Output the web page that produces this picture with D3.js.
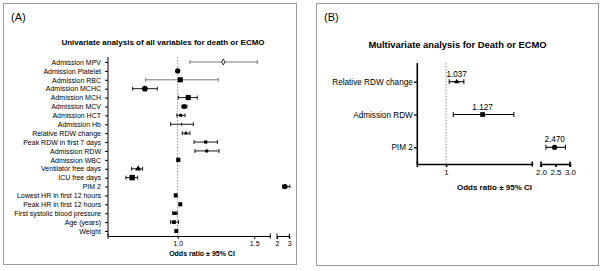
<!DOCTYPE html>
<html>
<head>
<meta charset="utf-8">
<script src="https://cdn.jsdelivr.net/npm/d3@7"></script>
<style>
  body { margin: 0; background: #fff; -webkit-font-smoothing: antialiased; }
  svg text { font-family: "Liberation Sans", Arial, sans-serif; fill: #000; }
  .tick text { fill: #000; }
</style>
</head>
<body>
<script>
// ---- data (odds ratio with 95% CI) ----
var uniLabels = ["Admission MPV", "Admission Platelet", "Admission RBC", "Admission MCHC",
  "Admission MCH", "Admission MCV", "Admission HCT", "Admission Hb", "Relative RDW change",
  "Peak RDW in first 7 days", "Admission RDW", "Admission WBC", "Ventilator free days",
  "ICU free days", "PIM 2", "Lowest HR in first 12 hours", "Peak HR in first 12 hours",
  "First systolic blood pressure", "Age (years)", "Weight"];
var uniOR   = [1.298, 1.000, 1.017, 0.786, 1.069, 1.043, 1.020, 1.026, 1.054, 1.183, 1.190, 1.004, 0.742, 0.703, 2.65, 0.987, 1.017, 0.982, 0.976, 0.991];
var uniLow  = [1.080, 0.998, 0.791, 0.706, 1.004, 1.028, 0.995, 0.954, 1.030, 1.107, 1.113, 1.000, 0.699, 0.662, 2.45, 0.983, 1.013, 0.967, 0.954, 0.988];
var uniHigh = [1.520, 1.002, 1.265, 0.867, 1.128, 1.061, 1.048, 1.102, 1.080, 1.259, 1.270, 1.008, 0.771, 0.739, 3.05, 0.991, 1.021, 0.997, 1.006, 0.994];
var uniTicks1 = [1.0, 1.5];
var uniTicks2 = [2, 3];

var multiLabels = ["Relative RDW change", "Admission RDW", "PIM 2"];
var multiOR   = [1.037, 1.127, 2.470];
var multiLow  = [1.011, 1.025, 2.17];
var multiHigh = [1.062, 1.236, 2.84];
var multiTicks1 = [1];
var multiTicks2 = [2.0, 2.5, 3.0];

var uniSymbols = ["diamond", "circle", "square", "circle", "square", "circle", "circle", "none",
  "triangle", "square", "circle", "square", "triangle", "square", "circle", "square", "square",
  "square", "square", "square"];
var uniSizes = [10, 22, 26, 26, 26, 20, 10, 0, 8, 10, 10, 18, 16, 30, 22, 16, 16, 12, 14, 16];
var uniGray = ["Admission MPV", "Admission RBC"];

var symMap = { circle: d3.symbolCircle, square: d3.symbolSquare, triangle: d3.symbolTriangle, diamond: d3.symbolDiamond };
var FONT = "Liberation Sans, Arial, sans-serif";

var svg = d3.select("body").append("svg")
    .attr("width", 602)
    .attr("height", 271);

// panel frames
svg.append("rect").attr("x", 3.5).attr("y", 3.5).attr("width", 293).attr("height", 261)
  .attr("fill", "none").attr("stroke", "#9a9a9a");
svg.append("rect").attr("x", 316.5).attr("y", 3.5).attr("width", 282).attr("height", 262)
  .attr("fill", "none").attr("stroke", "#9a9a9a");

// ================= Panel A =================
var gA = svg.append("g");
gA.append("text").attr("x", 11).attr("y", 21).attr("font-size", 11).text("(A)");
gA.append("text").attr("x", 163).attr("y", 45).attr("text-anchor", "middle")
  .attr("font-size", 8).attr("font-weight", "bold")
  .text("Univariate analysis of all variables for death or ECMO");

var axA = 108, ayA = 236;
var yA = d3.scalePoint().domain(uniLabels).range([62, 231]);
var xA1 = d3.scaleLinear().domain([0.545, 1.605]).range([axA, 270.3]);
var xA2 = d3.scaleLinear().domain([2, 3]).range([277, 289.3]);
function xA(v) { return v >= 1.8 ? xA2(v) : xA1(v); }

// reference line at 1
gA.append("line").attr("x1", xA1(1)).attr("x2", xA1(1)).attr("y1", 57).attr("y2", ayA)
  .attr("stroke", "#777").attr("stroke-width", 0.8).attr("stroke-dasharray", "1.5,1.5");

// y axis
var yAxisA = gA.append("g").attr("transform", "translate(" + axA + ",0)")
  .call(d3.axisLeft(yA).tickSize(3).tickSizeOuter(0).tickPadding(4));
yAxisA.select(".domain").attr("d", "M0,57V" + ayA);
yAxisA.selectAll("text").attr("font-size", 7).attr("font-family", FONT).attr("fill", "#000");

// x axis segments
function segAxis(g, scale, ticks, fmt, y, fs, sw) {
  var a = g.append("g").attr("transform", "translate(0," + y + ")")
    .call(d3.axisBottom(scale).tickValues(ticks).tickFormat(fmt).tickSize(3).tickSizeOuter(0).tickPadding(2));
  a.selectAll("text").attr("font-size", fs).attr("font-family", FONT).attr("fill", "#000");
  a.selectAll("path, line").attr("stroke-width", sw);
  var r = scale.range();
  a.append("line").attr("x1", r[1]).attr("x2", r[1]).attr("y1", -2.5).attr("y2", 2.5)
    .attr("stroke", "#000").attr("stroke-width", sw);
  a.append("line").attr("x1", r[0]).attr("x2", r[0]).attr("y1", -2.5).attr("y2", 3)
    .attr("stroke", "#000").attr("stroke-width", sw);
  return a;
}
segAxis(gA, xA1, uniTicks1, d3.format(".1f"), ayA, 7, 1);
segAxis(gA, xA2, uniTicks2, d3.format("d"), ayA, 7, 1);

gA.append("text").attr("x", 202).attr("y", 256).attr("text-anchor", "middle")
  .attr("font-size", 7).attr("font-weight", "bold").text("Odds ratio \u00b1 95% CI");

// CI bars
var rowsA = gA.selectAll(".rowA").data(uniLabels).enter().append("g").attr("class", "rowA");
rowsA.each(function(d, i) {
  var g = d3.select(this), y = yA(d);
  var col = uniGray.indexOf(d) >= 0 ? "#6a6a6a" : "#000";
  var x0 = xA(uniLow[i]), x1 = xA(uniHigh[i]);
  g.append("line").attr("x1", x0).attr("x2", x1).attr("y1", y).attr("y2", y)
    .attr("stroke", col).attr("stroke-width", 0.9);
  [x0, x1].forEach(function(x) {
    g.append("line").attr("x1", x).attr("x2", x).attr("y1", y - 2).attr("y2", y + 2)
      .attr("stroke", col).attr("stroke-width", 0.9);
  });
  var s = uniSymbols[i];
  if (s === "none") {
    g.append("line").attr("x1", xA(uniOR[i])).attr("x2", xA(uniOR[i])).attr("y1", y - 1.5).attr("y2", y + 1.5)
      .attr("stroke", "#000").attr("stroke-width", 0.9);
  } else {
    g.append("path").attr("transform", "translate(" + xA(uniOR[i]) + "," + y + ")")
      .attr("d", d3.symbol().type(symMap[s]).size(uniSizes[i]))
      .attr("fill", s === "diamond" ? "#fff" : "#000")
      .attr("stroke", "#000").attr("stroke-width", s === "diamond" ? 0.8 : 0);
  }
});

// ================= Panel B =================
var gB = svg.append("g");
gB.append("text").attr("x", 324).attr("y", 21).attr("font-size", 11).text("(B)");
gB.append("text").attr("x", 457.5).attr("y", 48).attr("text-anchor", "middle")
  .attr("font-size", 9.4).attr("font-weight", "bold")
  .text("Multivariate analysis for Death or ECMO");

var axB = 417.3, ayB = 164;
var yB = d3.scalePoint().domain(multiLabels).range([81.7, 147.3]);
var xB1 = d3.scaleLinear().domain([0.9, 1.3]).range([axB, 532.3]);
var xB2 = d3.scaleLinear().domain([2, 3]).range([541, 570]);
function xB(v) { return v >= 1.8 ? xB2(v) : xB1(v); }

gB.append("line").attr("x1", xB1(1)).attr("x2", xB1(1)).attr("y1", 63).attr("y2", ayB)
  .attr("stroke", "#888").attr("stroke-width", 0.9).attr("stroke-dasharray", "1.5,1.5");

var yAxisB = gB.append("g").attr("transform", "translate(" + axB + ",0)")
  .call(d3.axisLeft(yB).tickSize(3.5).tickSizeOuter(0).tickPadding(1));
yAxisB.select(".domain").attr("d", "M0,63V" + ayB).attr("stroke-width", 1.6);
yAxisB.selectAll("line").attr("stroke-width", 1.3);
yAxisB.selectAll("text").attr("font-size", 8.2).attr("font-family", FONT).attr("fill", "#000");

segAxis(gB, xB1, multiTicks1, d3.format("d"), ayB, 8, 1.6);
segAxis(gB, xB2, multiTicks2, d3.format(".1f"), ayB, 8, 1.6);

gB.append("text").attr("x", 494.5).attr("y", 190).attr("text-anchor", "middle")
  .attr("font-size", 8).attr("font-weight", "bold").text("Odds ratio \u00b1 95% CI");

var multiSymbols = ["triangle", "square", "circle"];
var multiSizes = [12, 22, 22];
var rowsB = gB.selectAll(".rowB").data(multiLabels).enter().append("g").attr("class", "rowB");
rowsB.each(function(d, i) {
  var g = d3.select(this), y = yB(d);
  var x0 = xB(multiLow[i]), x1 = xB(multiHigh[i]);
  g.append("line").attr("x1", x0).attr("x2", x1).attr("y1", y).attr("y2", y)
    .attr("stroke", "#000").attr("stroke-width", 1.1);
  [x0, x1].forEach(function(x) {
    g.append("line").attr("x1", x).attr("x2", x).attr("y1", y - 2.5).attr("y2", y + 2.5)
      .attr("stroke", "#000").attr("stroke-width", 1);
  });
  g.append("path").attr("transform", "translate(" + xB(multiOR[i]) + "," + y + ")")
    .attr("d", d3.symbol().type(symMap[multiSymbols[i]]).size(multiSizes[i]))
    .attr("fill", "#000");
  g.append("text").attr("x", xB(multiOR[i])).attr("y", y - 5).attr("text-anchor", "middle")
    .attr("font-size", 8.2).text(d3.format(".3f")(multiOR[i]));
});
</script>
</body>
</html>
